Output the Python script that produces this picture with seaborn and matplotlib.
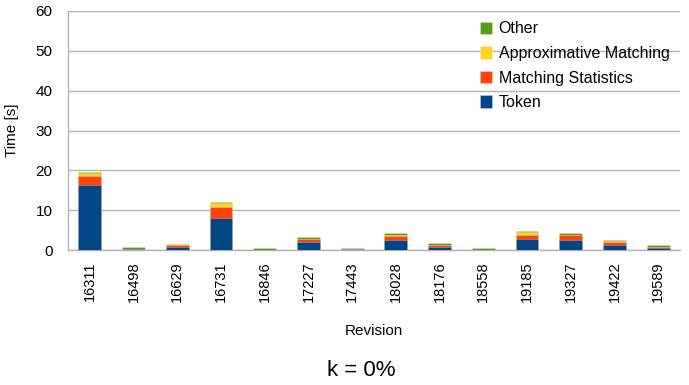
import numpy as np
import pandas as pd
import seaborn as sns
import matplotlib.pyplot as plt
from matplotlib.ticker import FixedLocator

revisions = ["16311", "16498", "16629", "16731", "16846", "17227", "17443",
             "18028", "18176", "18558", "19185", "19327", "19422", "19589"]
token = [16.3, 0.15, 0.75, 8.0, 0.1, 2.1, 0.15, 2.6, 0.7, 0.1, 2.75, 2.5, 1.25, 0.45]
match_stats = [2.3, 0.15, 0.55, 2.8, 0.0, 0.65, 0.0, 1.0, 0.45, 0.0, 1.0, 1.2, 0.85, 0.25]
approx = [0.65, 0.05, 0.1, 1.0, 0.0, 0.1, 0.0, 0.15, 0.1, 0.0, 0.65, 0.1, 0.1, 0.05]
other = [0.35, 0.3, 0.2, 0.25, 0.4, 0.4, 0.25, 0.5, 0.5, 0.4, 0.35, 0.45, 0.4, 0.5]

series = ["Token", "Matching Statistics", "Approximative Matching", "Other"]
colors = ["#004586", "#ff420e", "#ffd320", "#579d1c"]

df = pd.DataFrame({"Revision": revisions, "Token": token,
                   "Matching Statistics": match_stats,
                   "Approximative Matching": approx, "Other": other})

sns.set_style("white")
plt.rcParams['font.family'] = ['Liberation Sans', 'DejaVu Sans']
plt.rcParams['text.color'] = 'black'
plt.rcParams['axes.labelcolor'] = 'black'

fig = plt.figure(figsize=(6.89, 3.85), dpi=100)
ax = fig.add_axes([68 / 689, 1 - 250 / 385, 612 / 689, 239 / 385])

# stacked: draw cumulative sums, tallest first
cum = df[series].cumsum(axis=1)
for s, c in reversed(list(zip(series, colors))):
    sns.barplot(x=df["Revision"], y=cum[s], color=c, saturation=1, width=0.52, ax=ax,
                edgecolor=(1, 1, 1, 0.35), linewidth=0.5, label=s, zorder=3)

ax.set_ylim(0, 60)
ax.set_xlim(-0.5, len(revisions) - 0.5)
ax.set_yticks(range(0, 61, 10))
ax.yaxis.grid(True, color="#b3b3b3", linewidth=1)
ax.set_axisbelow(True)
for sp in ["top", "right"]:
    ax.spines[sp].set_visible(False)
for sp in ["left", "bottom"]:
    ax.spines[sp].set_color("#b3b3b3")
    ax.spines[sp].set_linewidth(1)

ax.tick_params(axis="x", which="major", length=0, labelrotation=90, labelsize=10.5, pad=8,
               labelcolor="black")
ax.xaxis.set_minor_locator(FixedLocator(np.arange(0.5, len(revisions) - 0.5, 1)))
ax.tick_params(axis="x", which="minor", length=8, color="#b3b3b3", width=1)
ax.tick_params(axis="y", length=8, color="#b3b3b3", labelcolor="black", width=1, labelsize=11, pad=3)

ax.set_xlabel("Revision", fontsize=11, labelpad=16)
ax.set_ylabel("Time [s]", fontsize=11, labelpad=12)

handles, labels = ax.get_legend_handles_labels()
ax.legend(handles, labels, loc="upper right", bbox_to_anchor=(1.0, 1.0), frameon=False,
          fontsize=11.5, handlelength=0.8, handleheight=0.8, handletextpad=0.4,
          labelspacing=0.6, borderaxespad=0.25)

fig.text(361 / 689, 1 - 371 / 385, "k = 0%", fontsize=16, ha="center", va="center")

fig.savefig("out.png", dpi=100)
